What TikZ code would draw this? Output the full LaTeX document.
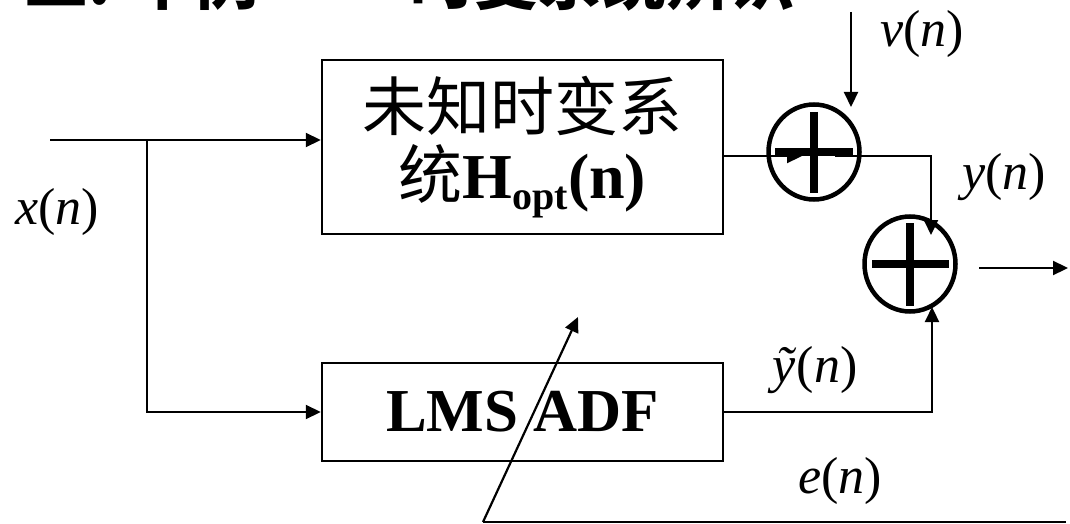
\documentclass[tikz,border=0pt]{standalone}
\usepackage{fontspec}
\setmainfont{Liberation Serif}
\newfontfamily\cjk{Noto Sans CJK SC}
\usetikzlibrary{arrows.meta,shapes.geometric}
\begin{document}
\begin{tikzpicture}[x=1pt,y=-1pt,
  blk/.style={draw,line width=2.5pt,inner sep=0pt},
  sumnode/.style={draw,ellipse,line width=4.5pt,minimum width=91pt,minimum height=95pt,inner sep=0pt},
  wire/.style={line width=2.2pt},
  arr/.style={wire,-{Triangle[length=15pt,width=14pt]}},
  lab/.style={font=\fontsize{52}{56}\selectfont,inner sep=0pt},
  bar/.style={line width=7.5pt},
  ttl/.style={anchor=base west,font=\cjk\bfseries\fontsize{64}{70}\selectfont,inner sep=0pt}
]
\useasboundingbox (0,0) rectangle (1070,524);
\begin{scope}
  \clip (0,0) rectangle (1070,524);
  \node[ttl] (t1) at (24,5) {二. 举例};
  \node[ttl] (t2) at (410,5) {时变系统辨识};
\end{scope}

% blocks
\node[blk,minimum width=401pt,minimum height=174pt,align=center,
      font=\fontsize{64}{68}\selectfont] (H) at (522.5,147)
  {{\cjk 未知时变系}\\{\cjk 统}\textbf{H\raisebox{-0.35ex}{\fontsize{40}{40}\selectfont opt}(n)}};
\node[blk,minimum width=401pt,minimum height=98pt,
      font=\fontsize{61}{64}\selectfont\bfseries] (L) at (522.5,412) {LMS ADF};

% summing junctions
\node[sumnode] (S1) at (814,152) {};
\node[sumnode] (S2) at (910,264) {};
\draw[bar] ([xshift=-39pt]S1.center) -- ([xshift=39pt]S1.center);
\draw[bar] ([yshift=40pt]S1.center) -- ([yshift=-41pt]S1.center);
\draw[bar] ([xshift=-38pt]S2.center) -- ([xshift=39pt]S2.center);
\draw[bar] ([yshift=41pt]S2.center) -- ([yshift=-42pt]S2.center);

% coordinates
\coordinate (in) at (50,140);
\coordinate (br) at (147,140);
\coordinate (h1) at (723,156);
\coordinate (s1in) at (802,156);
\coordinate (s1out) at (835,156);
\coordinate (s2top) at (931,235);
\coordinate (s2bot) at (932,307);
\coordinate (vtop) at (851,12);
\coordinate (vtip) at (851,107);
\coordinate (o1) at (979,268);
\coordinate (o2) at (1068,268);
\coordinate (eR) at (1066,522);
\coordinate (eL) at (483,522);
\coordinate (adj) at (578,317);

% connectors
\draw[arr] (in) -- (in -| H.west);
\draw[arr] (br) |- (L.west);
\draw[arr] (h1) -- (s1in);
\draw[arr] (s1out) -| (s2top);
\draw[arr] (vtop) -- (vtip);
\draw[arr] (L.east) -| (s2bot);
\draw[arr] (o1) -- (o2);
\draw[wire] (eR) -- (eL);
\draw[arr] (eL) -- (adj);

% labels
\node[lab] (lx) at (57,212) {\textit{x}(\textit{n})};
\node[lab] (lv) at (922,34) {\textit{v}(\textit{n})};
\node[lab] (ly) at (1004,177) {\textit{y}(\textit{n})};
\node[lab] (lyt) at (815,370) {\textit{ỹ}(\textit{n})};
\node[lab] (le) at (840,481) {\textit{e}(\textit{n})};
\end{tikzpicture}
\end{document}
